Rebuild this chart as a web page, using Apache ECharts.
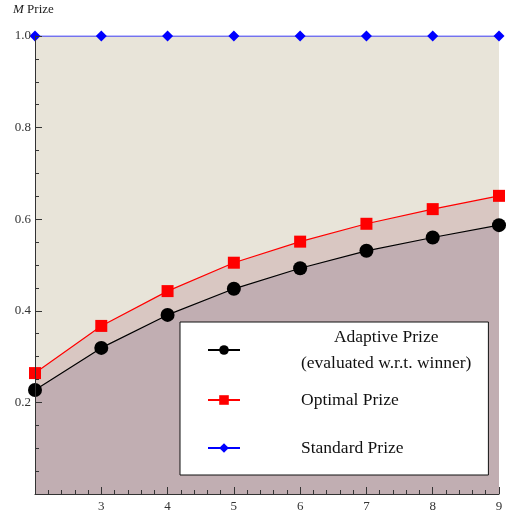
<!DOCTYPE html>
<html>
<head>
<meta charset="utf-8">
<script src="https://cdn.jsdelivr.net/npm/echarts@6/dist/echarts.min.js"></script>
<style>
  html, body { margin: 0; padding: 0; background: #fff; }
  #chart { width: 519px; height: 515px; }
</style>
</head>
<body>
<div id="chart"></div>
<script>
  // number of contestants M
  var mValues = [2, 3, 4, 5, 6, 7, 8, 9];
  var adaptivePrize = [0.227, 0.319, 0.391, 0.448, 0.493, 0.531, 0.560, 0.587];
  var optimalPrize = [0.264, 0.367, 0.443, 0.505, 0.551, 0.590, 0.622, 0.651];
  var standardPrize = [1.0, 1.0, 1.0, 1.0, 1.0, 1.0, 1.0, 1.0];

  function pairs(ys) {
    return mValues.map(function (x, i) { return [x, ys[i]]; });
  }

  var font = 'Liberation Serif';
  var chart = echarts.init(document.getElementById('chart'));

  var option = {
    animation: false,
    title: {
      text: '{i|M} Prize',
      left: 13,
      top: 3,
      padding: 0,
      textStyle: {
        fontFamily: font, fontSize: 13, fontWeight: 'normal', color: '#222',
        rich: {i: {fontFamily: font, fontSize: 13, fontStyle: 'italic', color: '#222'}}
      }
    },
    grid: {left: 35, right: 20, top: 36, bottom: 21},
    xAxis: {
      type: 'value',
      z: 10,
      min: 2, max: 9, interval: 1,
      axisLine: {lineStyle: {color: '#333'}},
      axisTick: {inside: true, length: 7, lineStyle: {color: '#333'}},
      minorTick: {show: true, splitNumber: 5, length: 4, lineStyle: {color: '#333'}},
      splitLine: {show: false},
      axisLabel: {
        fontFamily: font, fontSize: 13, color: '#333', margin: 6,
        formatter: function (v) { return v === 2 ? '' : v; }
      }
    },
    yAxis: {
      type: 'value',
      z: 10,
      min: 0, max: 1, interval: 0.2,
      axisLine: {show: true, lineStyle: {color: '#333'}},
      axisTick: {show: true, inside: true, length: 7, lineStyle: {color: '#333'}},
      minorTick: {show: true, splitNumber: 4, length: 4, lineStyle: {color: '#333'}},
      splitLine: {show: false},
      axisLabel: {
        fontFamily: font, fontSize: 13, color: '#333', margin: 4,
        formatter: function (v) { return v === 0 ? '' : v.toFixed(1); }
      }
    },
    legend: {
      z: 20,
      orient: 'vertical',
      left: 180, top: 322,
      padding: [2, 17, 3, 27],
      itemGap: 0,
      itemWidth: 32, itemHeight: 12,
      backgroundColor: '#fff',
      borderColor: '#111', borderWidth: 1,
      data: ['Adaptive Prize', 'Optimal Prize', 'Standard Prize'],
      formatter: function (name) {
        if (name === 'Adaptive Prize') {
          return '{c|Adaptive Prize}\n{b|(evaluated w.r.t. winner)}';
        }
        return name;
      },
      textStyle: {
        fontFamily: font, fontSize: 17.5, color: '#111',
        lineHeight: 48,
        padding: [0, 0, 0, 56],
        rich: {
          c: {fontFamily: font, fontSize: 17.5, lineHeight: 26, align: 'center', color: '#111'},
          b: {fontFamily: font, fontSize: 17.5, lineHeight: 26, color: '#111'}
        }
      }
    },
    series: [
      {
        name: 'Standard Prize',
        type: 'line',
        data: pairs(standardPrize),
        symbol: 'diamond', symbolSize: 11,
        lineStyle: {color: '#0000ff', width: 1.2},
        itemStyle: {color: '#0000ff'},
        areaStyle: {color: '#e8e4d9', opacity: 1}
      },
      {
        name: 'Optimal Prize',
        type: 'line',
        data: pairs(optimalPrize),
        symbol: 'rect', symbolSize: 12,
        lineStyle: {color: '#ff0000', width: 1.2},
        itemStyle: {color: '#ff0000'},
        areaStyle: {color: '#d9c7c2', opacity: 1}
      },
      {
        name: 'Adaptive Prize',
        type: 'line',
        data: pairs(adaptivePrize),
        symbol: 'circle', symbolSize: 14,
        lineStyle: {color: '#000', width: 1.2},
        itemStyle: {color: '#000'},
        areaStyle: {color: '#c1aeb2', opacity: 1}
      }
    ]
  };

  chart.setOption(option);
</script>
</body>
</html>
